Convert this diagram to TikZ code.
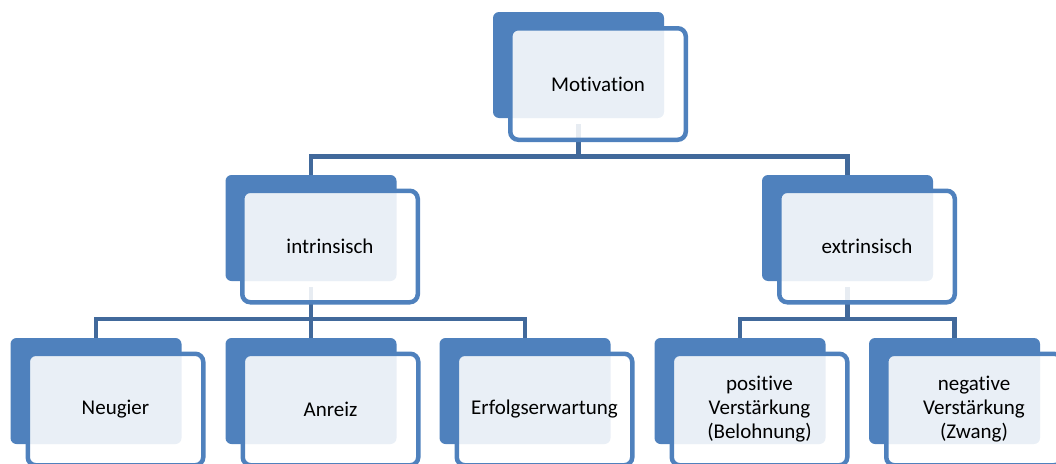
\documentclass[tikz,border=0pt]{standalone}
\usepackage{fontspec}
\setmainfont{Carlito}[Ligatures={NoCommon,NoContextual},Contextuals={NoAlternate}]
\definecolor{acc}{HTML}{4F81BD}
\definecolor{conncol}{HTML}{41699B}
\tikzset{
 backbox/.style={fill=acc, draw=none, rounded corners=6pt, minimum width=171pt, minimum height=106pt, inner sep=0pt},
 frontbox/.style={draw=acc, line width=4.5pt, fill=white, fill opacity=0.88, text opacity=1, rounded corners=8pt, minimum width=175.5pt, minimum height=111.5pt, inner sep=2pt, align=center, font=\fontsize{21}{24}\selectfont, text width=170pt},
 connline/.style={draw=conncol, line width=4.3pt}
}
\begin{document}
\begin{tikzpicture}[x=1pt,y=-1pt]
\useasboundingbox (0,0) rectangle (1056,463);
\clip (0,0) rectangle (1056,463);
% back boxes
\node[backbox] (mot-b) at (578.5,65) {};
\node[backbox] (int-b) at (311,228) {};
\node[backbox] (ext-b) at (847.5,228) {};
\node[backbox] (neu-b) at (96,391) {};
\node[backbox] (anr-b) at (311,391) {};
\node[backbox] (erf-b) at (525,391) {};
\node[backbox] (pos-b) at (740,391) {};
\node[backbox] (neg-b) at (954.5,391) {};
% connectors
\coordinate (h1) at (0,156.5);
\coordinate (h2) at (0,319);
\coordinate (m1) at ([yshift=-6pt]mot-b.south);
\coordinate (i1) at ([yshift=-6pt]int-b.south);
\coordinate (e1) at ([yshift=-6pt]ext-b.south);
\draw[connline] (int-b.north) |- (ext-b.north |- h1) -- (ext-b.north);
\draw[connline] (m1) -- (m1 |- h1);
\draw[connline] (neu-b.north) |- (erf-b.north |- h2) -- (erf-b.north);
\draw[connline] (i1) -- (anr-b.north);
\draw[connline] (pos-b.north) |- (neg-b.north |- h2) -- (neg-b.north);
\draw[connline] (e1) -- (e1 |- h2);
% front boxes
\node[frontbox] (mot) at (598,84) {Motivation};
\node[frontbox] (int) at (330,246.5) {intrinsisch};
\node[frontbox] (ext) at (867,246.5) {extrinsisch};
\node[frontbox] (neu) at (115.5,409.5) {Neugier};
\node[frontbox] (anr) at (330.5,409.5) {Anreiz};
\node[frontbox] (erf) at (544.5,409.5) {Erfolgserwartung};
\node[frontbox] (pos) at (759.5,409.5) {positive\\Verstärkung\\(Belohnung)};
\node[frontbox] (neg) at (974,409.5) {negative\\Verstärkung\\(Zwang)};
\end{tikzpicture}
\end{document}
